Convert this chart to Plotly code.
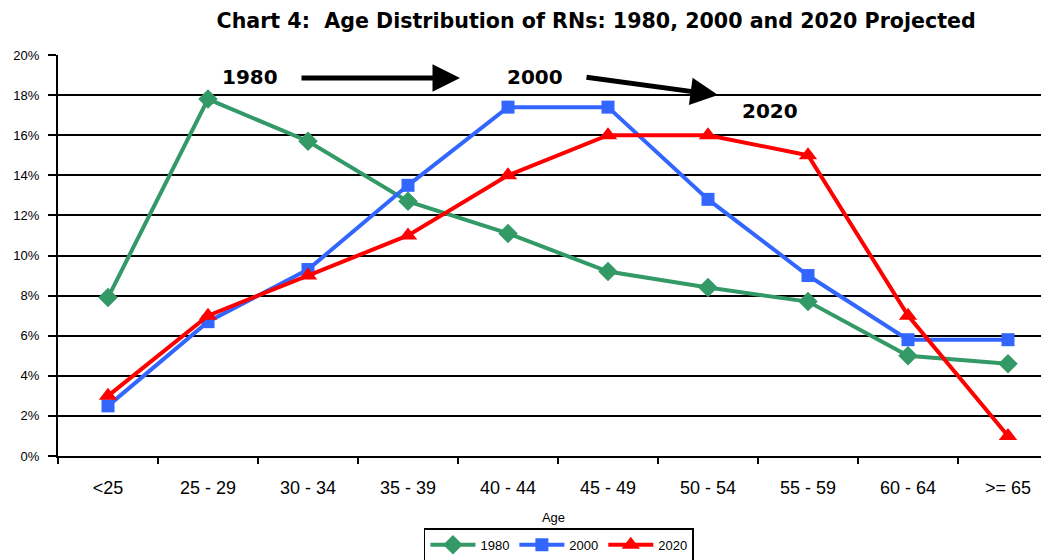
import plotly.graph_objects as go

categories = ["<25", "25 - 29", "30 - 34", "35 - 39", "40 - 44", "45 - 49", "50 - 54", "55 - 59", "60 - 64", ">= 65"]
y1980 = [7.9, 17.8, 15.7, 12.7, 11.1, 9.2, 8.4, 7.7, 5.0, 4.6]
y2000 = [2.5, 6.7, 9.3, 13.5, 17.4, 17.4, 12.8, 9.0, 5.8, 5.8]
y2020 = [3.0, 7.0, 9.0, 11.0, 14.0, 16.0, 16.0, 15.0, 7.0, 1.0]
yticks = [0, 2, 4, 6, 8, 10, 12, 14, 16, 18, 20]

fig = go.Figure()
fig.add_trace(go.Scatter(x=categories, y=y1980, name="1980", mode="lines+markers",
                         line=dict(color="#339966", width=4),
                         marker=dict(symbol="diamond", size=15, color="#339966")))
fig.add_trace(go.Scatter(x=categories, y=y2000, name="2000", mode="lines+markers",
                         line=dict(color="#3366FF", width=4),
                         marker=dict(symbol="square", size=13, color="#3366FF")))
fig.add_trace(go.Scatter(x=categories, y=y2020, name="2020", mode="lines+markers",
                         line=dict(color="#FF0000", width=4),
                         marker=dict(symbol="triangle-up", size=16, color="#FF0000")))

lab = dict(family="DejaVu Sans", size=20, color="black")
fig.add_annotation(x=1.42, y=18.9, text="<b>1980</b>", showarrow=False, font=lab)
fig.add_annotation(x=4.27, y=18.9, text="<b>2000</b>", showarrow=False, font=lab)
fig.add_annotation(x=6.62, y=17.2, text="<b>2020</b>", showarrow=False, font=lab)
fig.add_annotation(x=3.52, y=18.85, ax=1.92, ay=18.85, axref="x", ayref="y", xref="x", yref="y",
                   text="", showarrow=True, arrowhead=2, arrowwidth=5, arrowsize=1.1, arrowcolor="black")
fig.add_annotation(x=6.10, y=18.0, ax=4.77, ay=18.9, axref="x", ayref="y", xref="x", yref="y",
                   text="", showarrow=True, arrowhead=2, arrowwidth=5, arrowsize=1.1, arrowcolor="black")

fig.update_layout(
    width=1041, height=552,
    margin=dict(l=50, r=0, t=47, b=104, autoexpand=False),
    paper_bgcolor="white", plot_bgcolor="white",
    font=dict(family="Arial, Liberation Sans", color="black"),
    title=dict(text="<b>Chart 4:  Age Distribution of RNs: 1980, 2000 and 2020 Projected</b>",
               x=0.565, xanchor="center", y=0.976, yanchor="middle",
               font=dict(family="DejaVu Sans", size=20.6, color="black")),
    showlegend=True,
    legend=dict(orientation="h", x=0.5055, xanchor="center", y=-0.18, yanchor="top",
                bordercolor="black", borderwidth=1.5, font=dict(size=13),
                itemwidth=45, tracegroupgap=0),
)
fig.update_xaxes(type="category", range=[-0.5, 9.41], tickson="boundaries",
                 ticks="outside", ticklen=6, tickcolor="black", tickwidth=2,
                 showline=True, linecolor="black", linewidth=2, showgrid=False,
                 automargin=False, ticklabelstandoff=14,
                 tickfont=dict(size=18), title=dict(text="Age", font=dict(size=13), standoff=16))
fig.update_yaxes(range=[0, 20], tickvals=yticks, ticktext=[f"{v}%" for v in yticks],
                 ticks="outside", ticklen=8, tickcolor="black", tickwidth=2,
                 showline=True, linecolor="black", linewidth=2, automargin=False,
                 ticklabelstandoff=6,
                 showgrid=True, gridcolor="black", gridwidth=1.5,
                 tickfont=dict(size=13), zeroline=False)

fig.write_html("out.html")
